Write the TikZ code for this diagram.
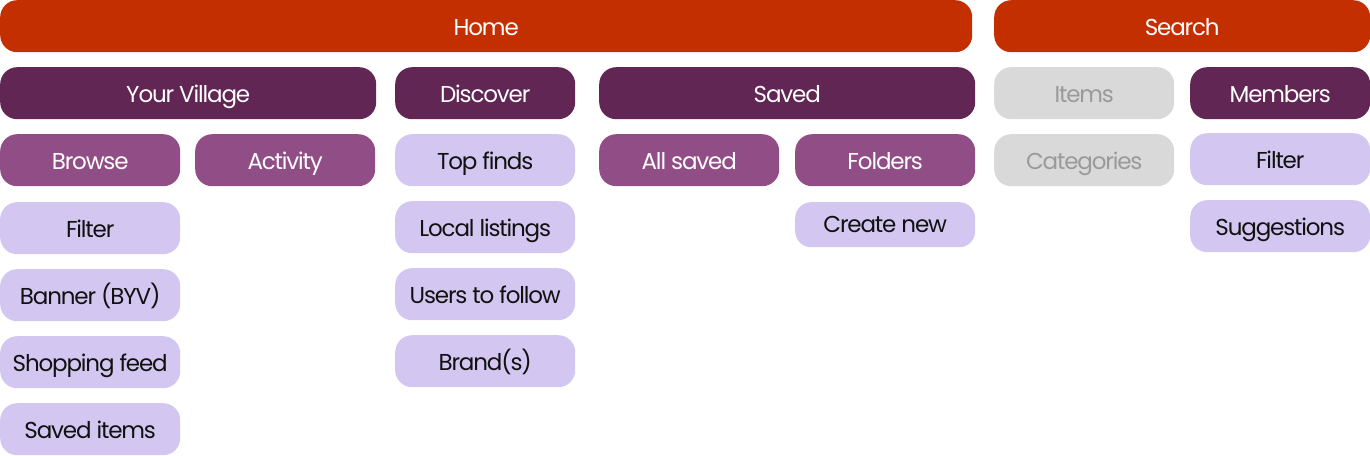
\documentclass[tikz,border=0pt]{standalone}
\usepackage{fontspec}
\setmainfont{Poppins}
\newfontfamily\boxfont[LetterSpace=-5]{Poppins}
\definecolor{homered}{HTML}{C42F00}
\definecolor{darkpur}{HTML}{612654}
\definecolor{midpur}{HTML}{914D85}
\definecolor{lav}{HTML}{D3C6F0}
\definecolor{greybox}{HTML}{D9D9D9}
\definecolor{greytxt}{HTML}{9A9A9A}
\definecolor{darktxt}{HTML}{111111}
\tikzset{
  box/.style={anchor=north west, rounded corners=17pt, minimum height=52pt, inner sep=0pt,
    text height=18pt, text depth=0pt, font=\boxfont\fontsize{23}{26}\selectfont},
  topbox/.style={box, fill=homered, text=white},
  darkbox/.style={box, fill=darkpur, text=white},
  midbox/.style={box, fill=midpur, text=white},
  lavbox/.style={box, fill=lav, text=darktxt},
  greyb/.style={box, fill=greybox, text=greytxt},
  w180/.style={minimum width=180pt},
  w376/.style={minimum width=376pt}
}
\begin{document}
\begin{tikzpicture}[x=1pt,y=-1pt]
\useasboundingbox (0,0) rectangle (1370,455);
\node[topbox, minimum width=972pt] (home) at (0,0) {Home};
\node[topbox, w376] (search) at (994,0) {Search};
% row 1
\node[darkbox, w376] (village) at (0,67) {Your Village};
\node[darkbox, w180] (discover) at (395,67) {Discover};
\node[darkbox, w376] (saved) at (599,67) {Saved};
\node[greyb, w180] (items) at (994,67) {Items};
\node[darkbox, w180] (members) at (1190,67) {Members};
% row 2
\node[midbox, w180] (browse) at (0,134) {Browse};
\node[midbox, w180] (activity) at (195,134) {Activity};
\node[lavbox, w180] (topfinds) at (395,134) {Top finds};
\node[midbox, w180] (allsaved) at (599,134) {All saved};
\node[midbox, w180] (folders) at (795,134) {Folders};
\node[greyb, w180] (categories) at (994,134) {Categories};
\node[lavbox, w180] (mfilter) at (1190,133) {Filter};
% row 3
\node[lavbox, w180] (filter) at (0,202) {Filter};
\node[lavbox, w180] (local) at (395,201) {Local listings};
\node[lavbox, w180, minimum height=45pt, rounded corners=16pt, text height=16pt] (create) at (795,202) {Create new};
\node[lavbox, w180] (suggest) at (1190,200) {Suggestions};
% row 4
\node[lavbox, w180] (banner) at (0,269) {Banner (BYV)};
\node[lavbox, w180] (users) at (395,268) {Users to follow};
% row 5
\node[lavbox, w180] (shopping) at (0,336) {Shopping feed};
\node[lavbox, w180] (brands) at (395,335) {Brand(s)};
% row 6
\node[lavbox, w180] (saveditems) at (0,403) {Saved items};
\end{tikzpicture}
\end{document}
